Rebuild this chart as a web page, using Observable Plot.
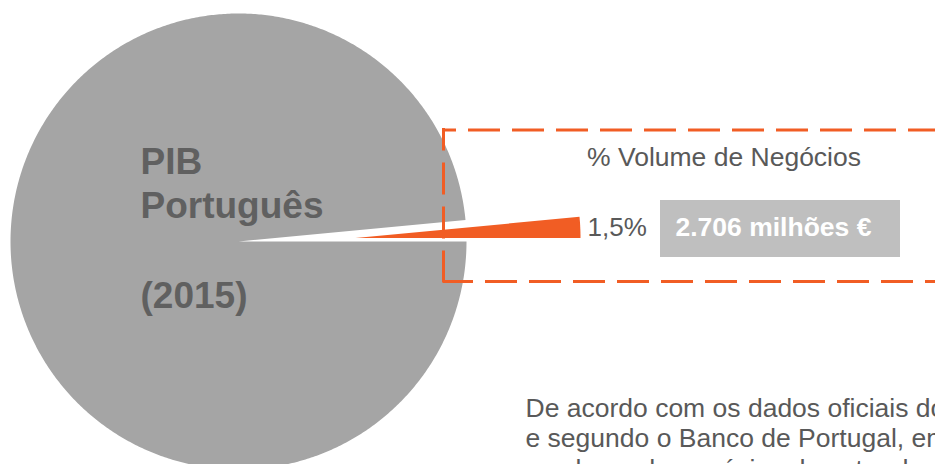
<!DOCTYPE html>
<html>
<head>
<meta charset="utf-8">
<script src="https://cdn.jsdelivr.net/npm/d3@7"></script>
<script src="https://cdn.jsdelivr.net/npm/@observablehq/plot@0.6"></script>
<style>
  html, body { margin: 0; padding: 0; background: #fff; overflow: hidden; }
  #chart svg { overflow: hidden; display: block; }
</style>
</head>
<body>
<div id="chart"></div>
<script>
// ---- data ----
const categories = ["PIB Português (2015)", "Volume de Negócios"];
const shares = [98.5, 1.5];               // % of PIB
const shareLabel = "1,5%";
const valueLabel = "2.706 milhões €";
const boxTitle = "% Volume de Negócios";
const pieLabelLines = ["PIB", "Português", "", "(2015)"];
const noteLines = [
  "De acordo com os dados oficiais do INE",
  "e segundo o Banco de Portugal, em 2015",
  "o volume de negócios do setor de"
];

// ---- layout (pixels) ----
const W = 935, H = 464;
const pie = {cx: 238, cy: 241, r: 228};
const explode = {dx: 117, dy: -3.5, r: 225};
const gray = "#A5A5A5", orange = "#F15D24", boxGray = "#BFBFBF", textGray = "#595959";

// slice angles (counter-clockwise from east), small slice first
const total = d3.sum(shares);
const order = [1, 0];
let acc = 0;
const slices = order.map(i => {
  const a0 = acc / total * 2 * Math.PI;
  acc += shares[i];
  const a1 = acc / total * 2 * Math.PI;
  return {name: categories[i], a0, a1, i};
});

function arcPolygon(cx, cy, r, a0, a1, name) {
  const n = Math.max(2, Math.ceil((a1 - a0) / (Math.PI / 360)));
  const pts = [{x: cx, y: cy, name}];
  for (let k = 0; k <= n; k++) {
    const a = a0 + (a1 - a0) * k / n;
    pts.push({x: cx + r * Math.cos(a), y: cy - r * Math.sin(a), name});
  }
  pts.push({x: cx, y: cy, name});
  return pts;
}

const big = slices.find(s => s.i === 0);
const small = slices.find(s => s.i === 1);
const bigPts = arcPolygon(pie.cx, pie.cy, pie.r, big.a0, big.a1, big.name);
const smallPts = arcPolygon(pie.cx + explode.dx, pie.cy + explode.dy, explode.r, small.a0, small.a1, small.name);

const font = "'Liberation Sans', Arial, Helvetica, sans-serif";

const chart = Plot.plot({
  width: W,
  height: H,
  margin: 0,
  x: {domain: [0, W], axis: null},
  y: {domain: [H, 0], range: [H, 0], axis: null},
  style: {fontFamily: font, background: "#fff", overflow: "hidden"},
  marks: [
    Plot.line(bigPts, {x: "x", y: "y", z: "name", fill: gray, stroke: "none"}),
    // dashed frame
    Plot.ruleY([129.5], {x1: 443, x2: 960, stroke: orange, strokeWidth: 3, strokeDasharray: "32,12", strokeDashoffset: 19}),
    Plot.ruleY([281], {x1: 443, x2: 960, stroke: orange, strokeWidth: 3, strokeDasharray: "32,12", strokeDashoffset: 2}),
    Plot.ruleX([443], {y1: 282.5, y2: 128, stroke: orange, strokeWidth: 3, strokeDasharray: "32,12", strokeDashoffset: 0}),
    Plot.line(smallPts, {x: "x", y: "y", z: "name", fill: orange, stroke: "none"}),
    // pie label (one text per line, baseline-anchored)
    Plot.text(pieLabelLines, {
      x: 140, y: (d, i) => 173 + i * 44.7, text: d => d, textAnchor: "start", lineAnchor: "bottom",
      fontSize: 37, fontWeight: "bold", fill: "#606060"
    }),
    // box title
    Plot.text([boxTitle], {
      x: 723.5, y: 165, text: d => d, textAnchor: "middle", lineAnchor: "bottom",
      fontSize: 26.5, fill: textGray
    }),
    Plot.text([shareLabel], {
      x: 587, y: 235, text: d => d, textAnchor: "start", lineAnchor: "bottom",
      fontSize: 26, fill: textGray
    }),
    Plot.rect([valueLabel], {x1: 660, x2: 900, y1: 200, y2: 257, fill: boxGray}),
    Plot.text([valueLabel], {
      x: 675, y: 235, text: d => d, textAnchor: "start", lineAnchor: "bottom",
      fontSize: 26.5, fontWeight: "bold", fill: "#fff"
    }),
    // note paragraph
    Plot.text(noteLines, {
      x: 525, y: (d, i) => 416 + i * 30.5, text: d => d, textAnchor: "start", lineAnchor: "bottom",
      fontSize: 26.5, fill: textGray
    })
  ]
});

document.getElementById("chart").appendChild(chart);
</script>
</body>
</html>
